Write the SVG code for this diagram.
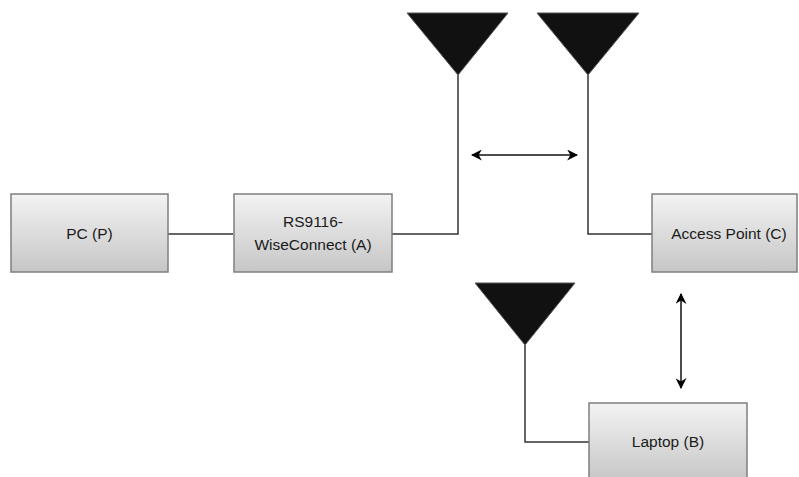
<svg xmlns="http://www.w3.org/2000/svg" width="799" height="477" viewBox="0 0 799 477">
<defs>
<linearGradient id="g" x1="0" y1="0" x2="0" y2="1">
<stop offset="0" stop-color="#f3f3f3"/>
<stop offset="1" stop-color="#c6c6c6"/>
</linearGradient>
<marker id="ah" viewBox="0 0 10 10" refX="9" refY="5" markerWidth="11" markerHeight="11" markerUnits="userSpaceOnUse" orient="auto-start-reverse">
<path d="M0,0 L10,5 L0,10 L3,5 Z" fill="#000"/>
</marker>
<style>
.box{fill:url(#g);stroke:#7f7f7f;stroke-width:1.5}
.t{font-family:"Liberation Sans",Arial,sans-serif;font-size:15.5px;fill:#1a1a1a;text-anchor:middle}
.ln{fill:none;stroke:#333;stroke-width:1.5}
.ant{fill:#111;stroke:#555;stroke-width:1}
.arr{fill:none;stroke:#111;stroke-width:1.5}
</style>
</defs>
<rect width="799" height="477" fill="#fff"/>
<g id="connectors">
<path class="ln" d="M168,234 H233"/>
<path class="ln" d="M392,234 H458 V75"/>
<path class="ln" d="M652,234 H588 V75"/>
<path class="ln" d="M589,442 H525 V345"/>
<path class="arr" d="M472,155 H577" marker-start="url(#ah)" marker-end="url(#ah)"/>
<path class="arr" d="M681,294 V388" marker-start="url(#ah)" marker-end="url(#ah)"/>
</g>
<g id="antenna-a"><polygon class="ant" points="407,13 508,13 458,75"/></g>
<g id="antenna-c"><polygon class="ant" points="537,13 639,13 588,75"/></g>
<g id="antenna-b"><polygon class="ant" points="475,283 575,283 525,345"/></g>
<g id="pc"><rect class="box" x="11" y="194" width="157" height="78"/><text class="t" x="89.5" y="239">PC (P)</text></g>
<g id="rs9116"><rect class="box" x="234" y="194" width="158" height="78"/><text class="t" x="313" y="227">RS9116-</text><text class="t" x="313" y="250">WiseConnect (A)</text></g>
<g id="access-point"><rect class="box" x="652" y="194" width="145" height="78"/><text class="t" x="729" y="239">Access Point (C)</text></g>
<g id="laptop"><rect class="box" x="589" y="403" width="158" height="78"/><text class="t" x="668" y="447">Laptop (B)</text></g>
</svg>
